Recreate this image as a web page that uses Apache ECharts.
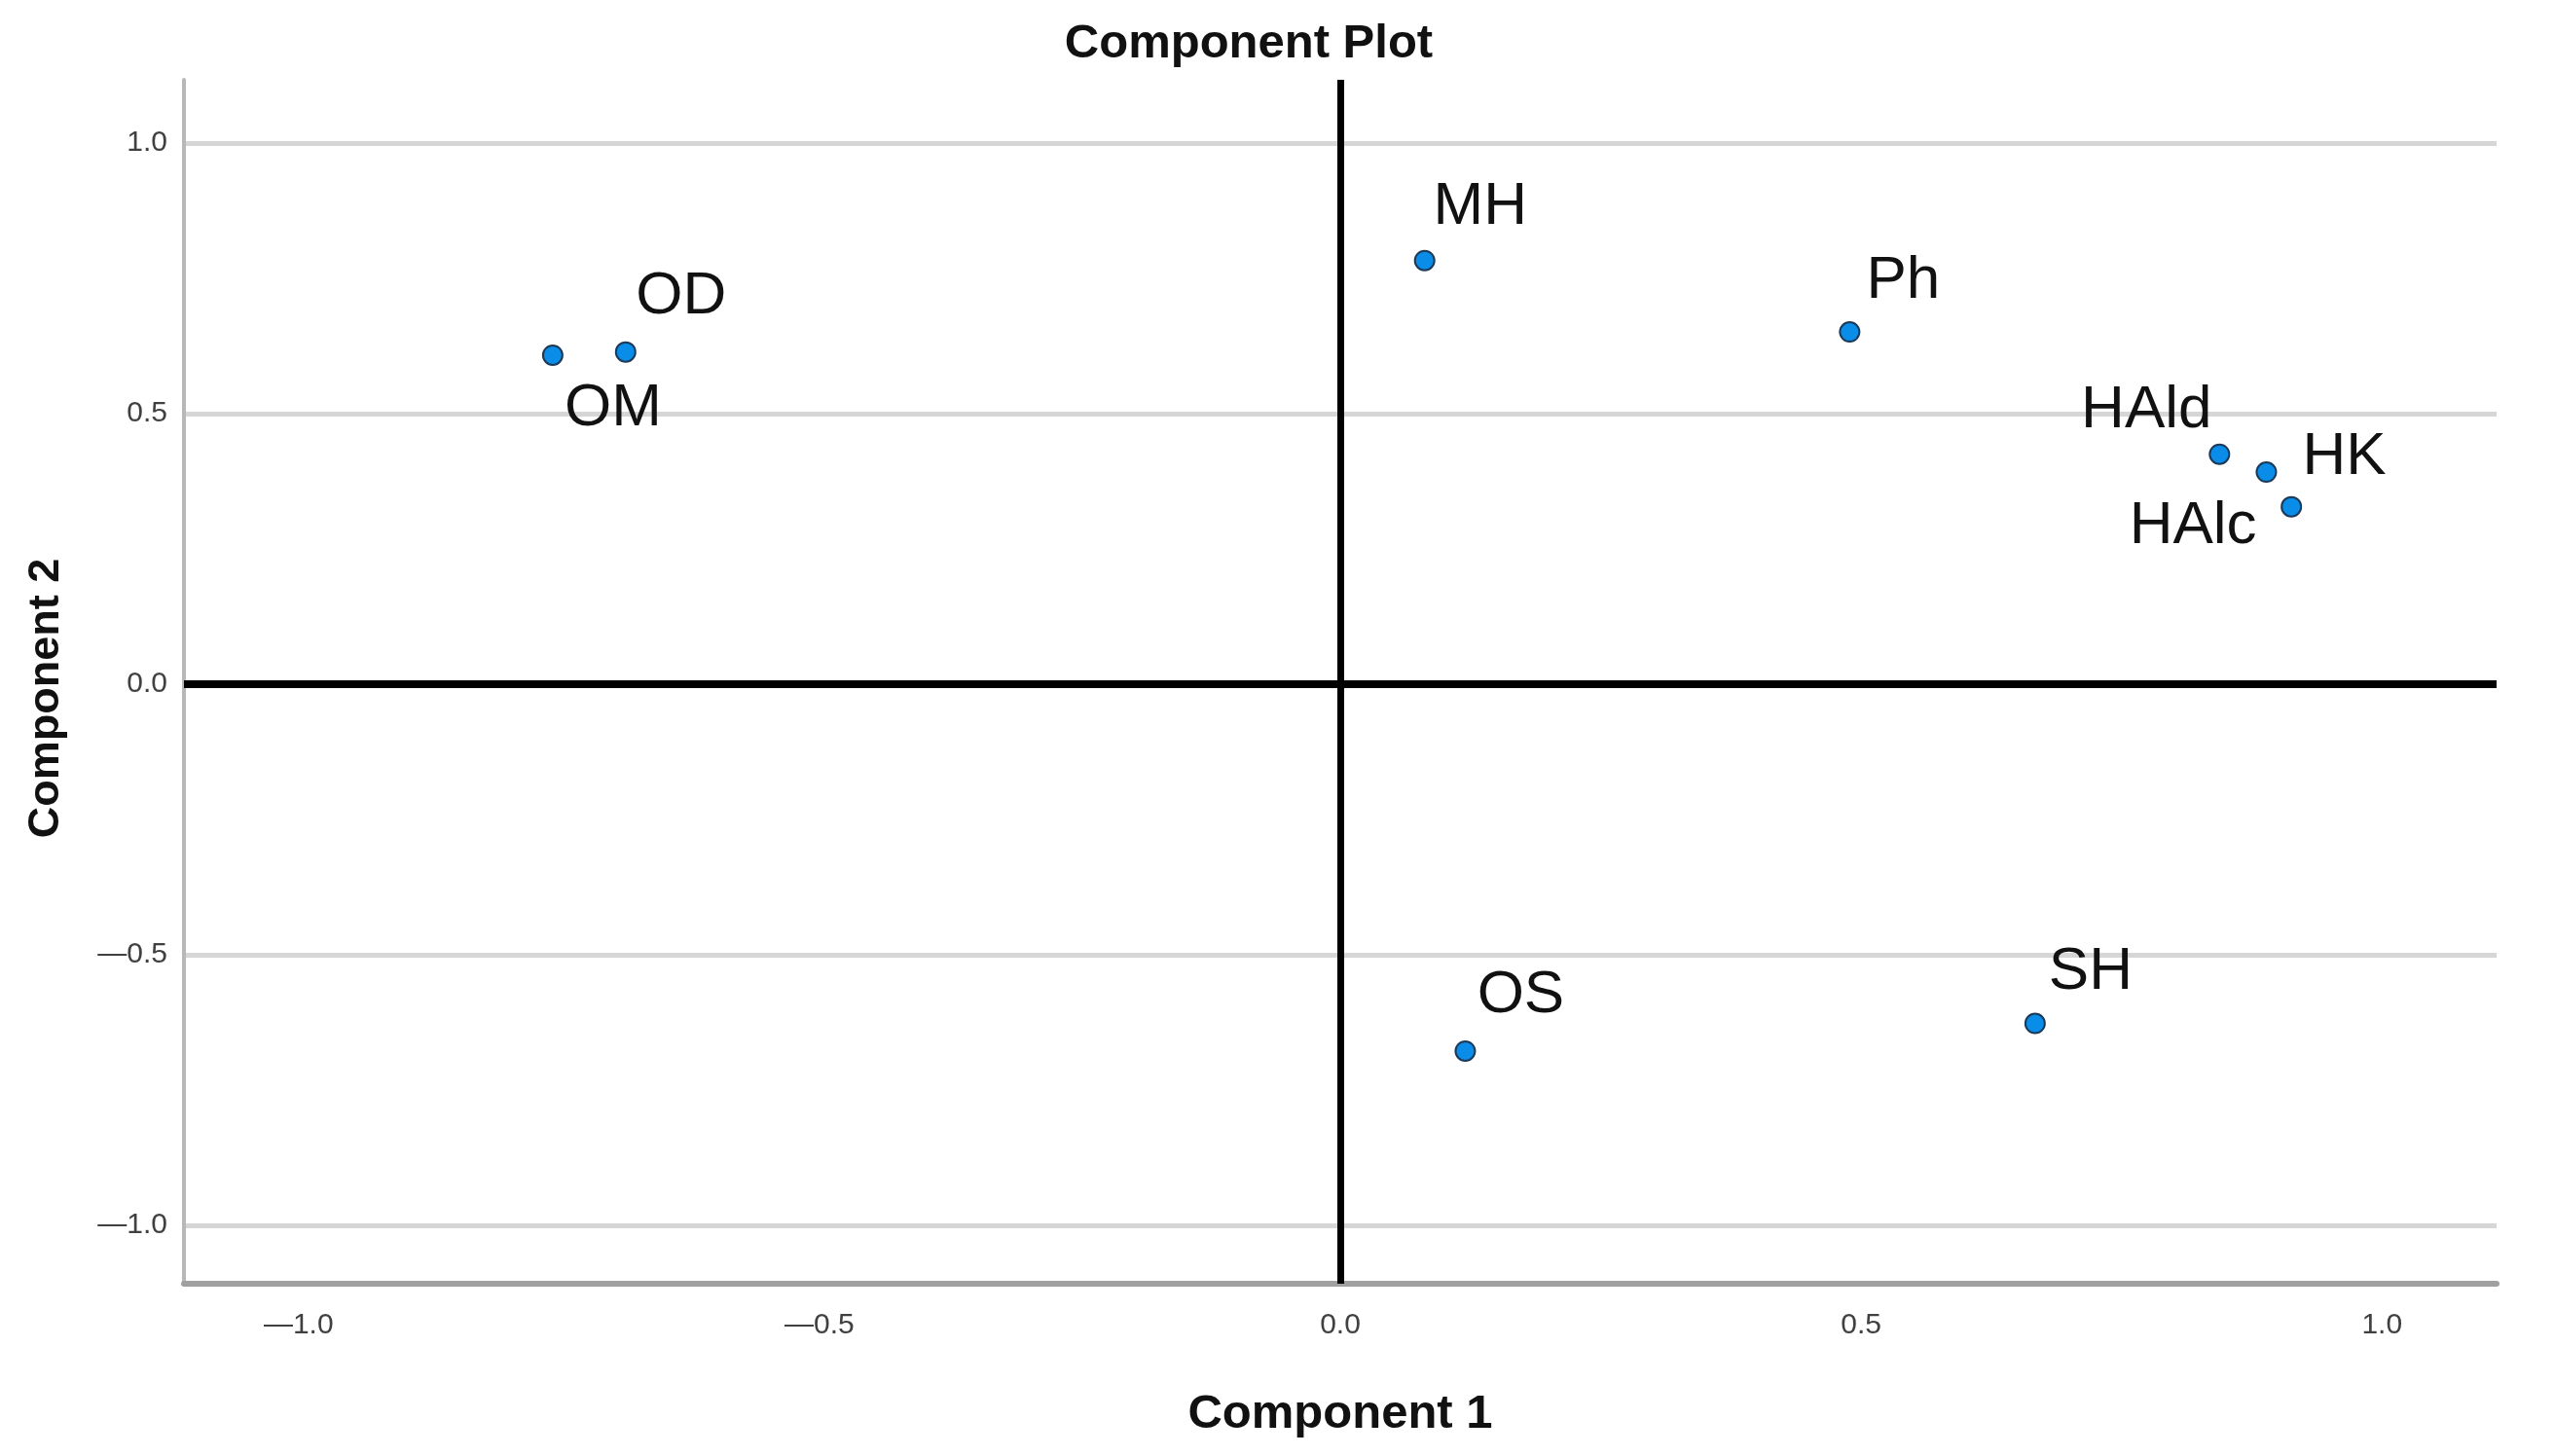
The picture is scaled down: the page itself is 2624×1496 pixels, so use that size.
<!DOCTYPE html>
<html>
<head>
<meta charset="utf-8">
<title>Component Plot</title>
<script src="https://cdn.jsdelivr.net/npm/echarts@6/dist/echarts.min.js"></script>
<style>
  html, body { margin: 0; padding: 0; background: #ffffff; }
  #chart { width: 2624px; height: 1496px; }
</style>
</head>
<body>
<div id="chart"></div>
<script>
// ---- data ----
const variableNames = ['OM', 'OD', 'MH', 'Ph', 'HAld', 'HK', 'HAlc', 'OS', 'SH'];
const component1   = [-0.756, -0.686, 0.081, 0.489, 0.844, 0.889, 0.913, 0.120, 0.667];
const component2   = [0.608, 0.614, 0.783, 0.651, 0.425, 0.392, 0.328, -0.678, -0.627];
const xTickValues  = [-1.0, -0.5, 0.0, 0.5, 1.0];
const yTickValues  = [-1.0, -0.5, 0.0, 0.5, 1.0];
const referenceLines = [0];

// ---- label placement (style, not data): offset from point centre in px ----
const labelOffsets = {
  OM:   [62, 55],
  OD:   [57, -57],
  MH:   [57, -55],
  Ph:   [55, -52],
  HAld: [-75, -45],
  HK:   [80, -15],
  HAlc: [-101, 20],
  OS:   [57, -57],
  SH:   [57, -53]
};

const points = variableNames.map((n, i) => ({
  name: n,
  value: [component1[i], component2[i]],
  label: { offset: labelOffsets[n] }
}));

const fmt = v => (Math.abs(v) < 1e-9 ? '0.0' : v.toFixed(1).replace('-', '\u2014'));

const chart = echarts.init(document.getElementById('chart'), null, { renderer: 'canvas' });

chart.setOption({
  animation: false,
  backgroundColor: '#ffffff',
  title: {
    text: 'Component Plot',
    left: 1278,
    top: 16,
    textAlign: 'center',
    textStyle: { fontFamily: 'Liberation Sans', fontWeight: 'bold', fontSize: 49, color: '#111111' }
  },
  grid: { left: 189, right: 59, top: 82, bottom: 177, containLabel: false },
  xAxis: {
    type: 'value',
    min: -1.11,
    max: 1.11,
    name: 'Component 1',
    nameLocation: 'middle',
    nameGap: 110,
    nameTextStyle: { fontFamily: 'Liberation Sans', fontWeight: 'bold', fontSize: 49, color: '#111111' },
    axisLine: { show: true, onZero: false, lineStyle: { color: '#a0a0a0', width: 6 } },
    axisTick: { show: false, customValues: xTickValues },
    axisLabel: {
      customValues: xTickValues,
      formatter: fmt,
      margin: 28,
      fontFamily: 'Liberation Sans',
      fontSize: 30,
      color: '#404040'
    },
    splitLine: { show: false }
  },
  yAxis: {
    type: 'value',
    min: -1.108,
    max: 1.117,
    name: 'Component 2',
    nameLocation: 'middle',
    nameGap: 119,
    nameTextStyle: {
      fontFamily: 'Liberation Sans', fontWeight: 'bold', fontSize: 45, color: '#111111',
      padding: [0, 34, 0, 0]
    },
    axisLine: { show: true, onZero: false, lineStyle: { color: '#b8b8b8', width: 4 } },
    axisTick: { show: false, customValues: yTickValues },
    axisLabel: {
      customValues: yTickValues,
      formatter: fmt,
      margin: 17,
      fontFamily: 'Liberation Sans',
      fontSize: 30,
      color: '#404040'
    },
    splitLine: { show: true, lineStyle: { color: '#d6d6d6', width: 5 } }
  },
  series: [{
    type: 'scatter',
    data: points,
    symbol: 'circle',
    symbolSize: 20,
    itemStyle: { color: '#0a8ce9', borderColor: '#1c3a57', borderWidth: 2, opacity: 1 },
    label: {
      show: true,
      position: 'inside',
      formatter: '{b}',
      fontFamily: 'Liberation Sans',
      fontSize: 62,
      color: '#111111'
    },
    emphasis: { disabled: true },
    z: 5,
    markLine: {
      silent: true,
      symbol: ['none', 'none'],
      label: { show: false },
      animation: false,
      z: 3,
      data: [
        ...referenceLines.map(v => ({ xAxis: v, lineStyle: { color: '#000000', width: 7, type: 'solid' } })),
        ...referenceLines.map(v => ({ yAxis: v, lineStyle: { color: '#000000', width: 8, type: 'solid' } }))
      ]
    }
  }]
});
</script>
</body>
</html>
